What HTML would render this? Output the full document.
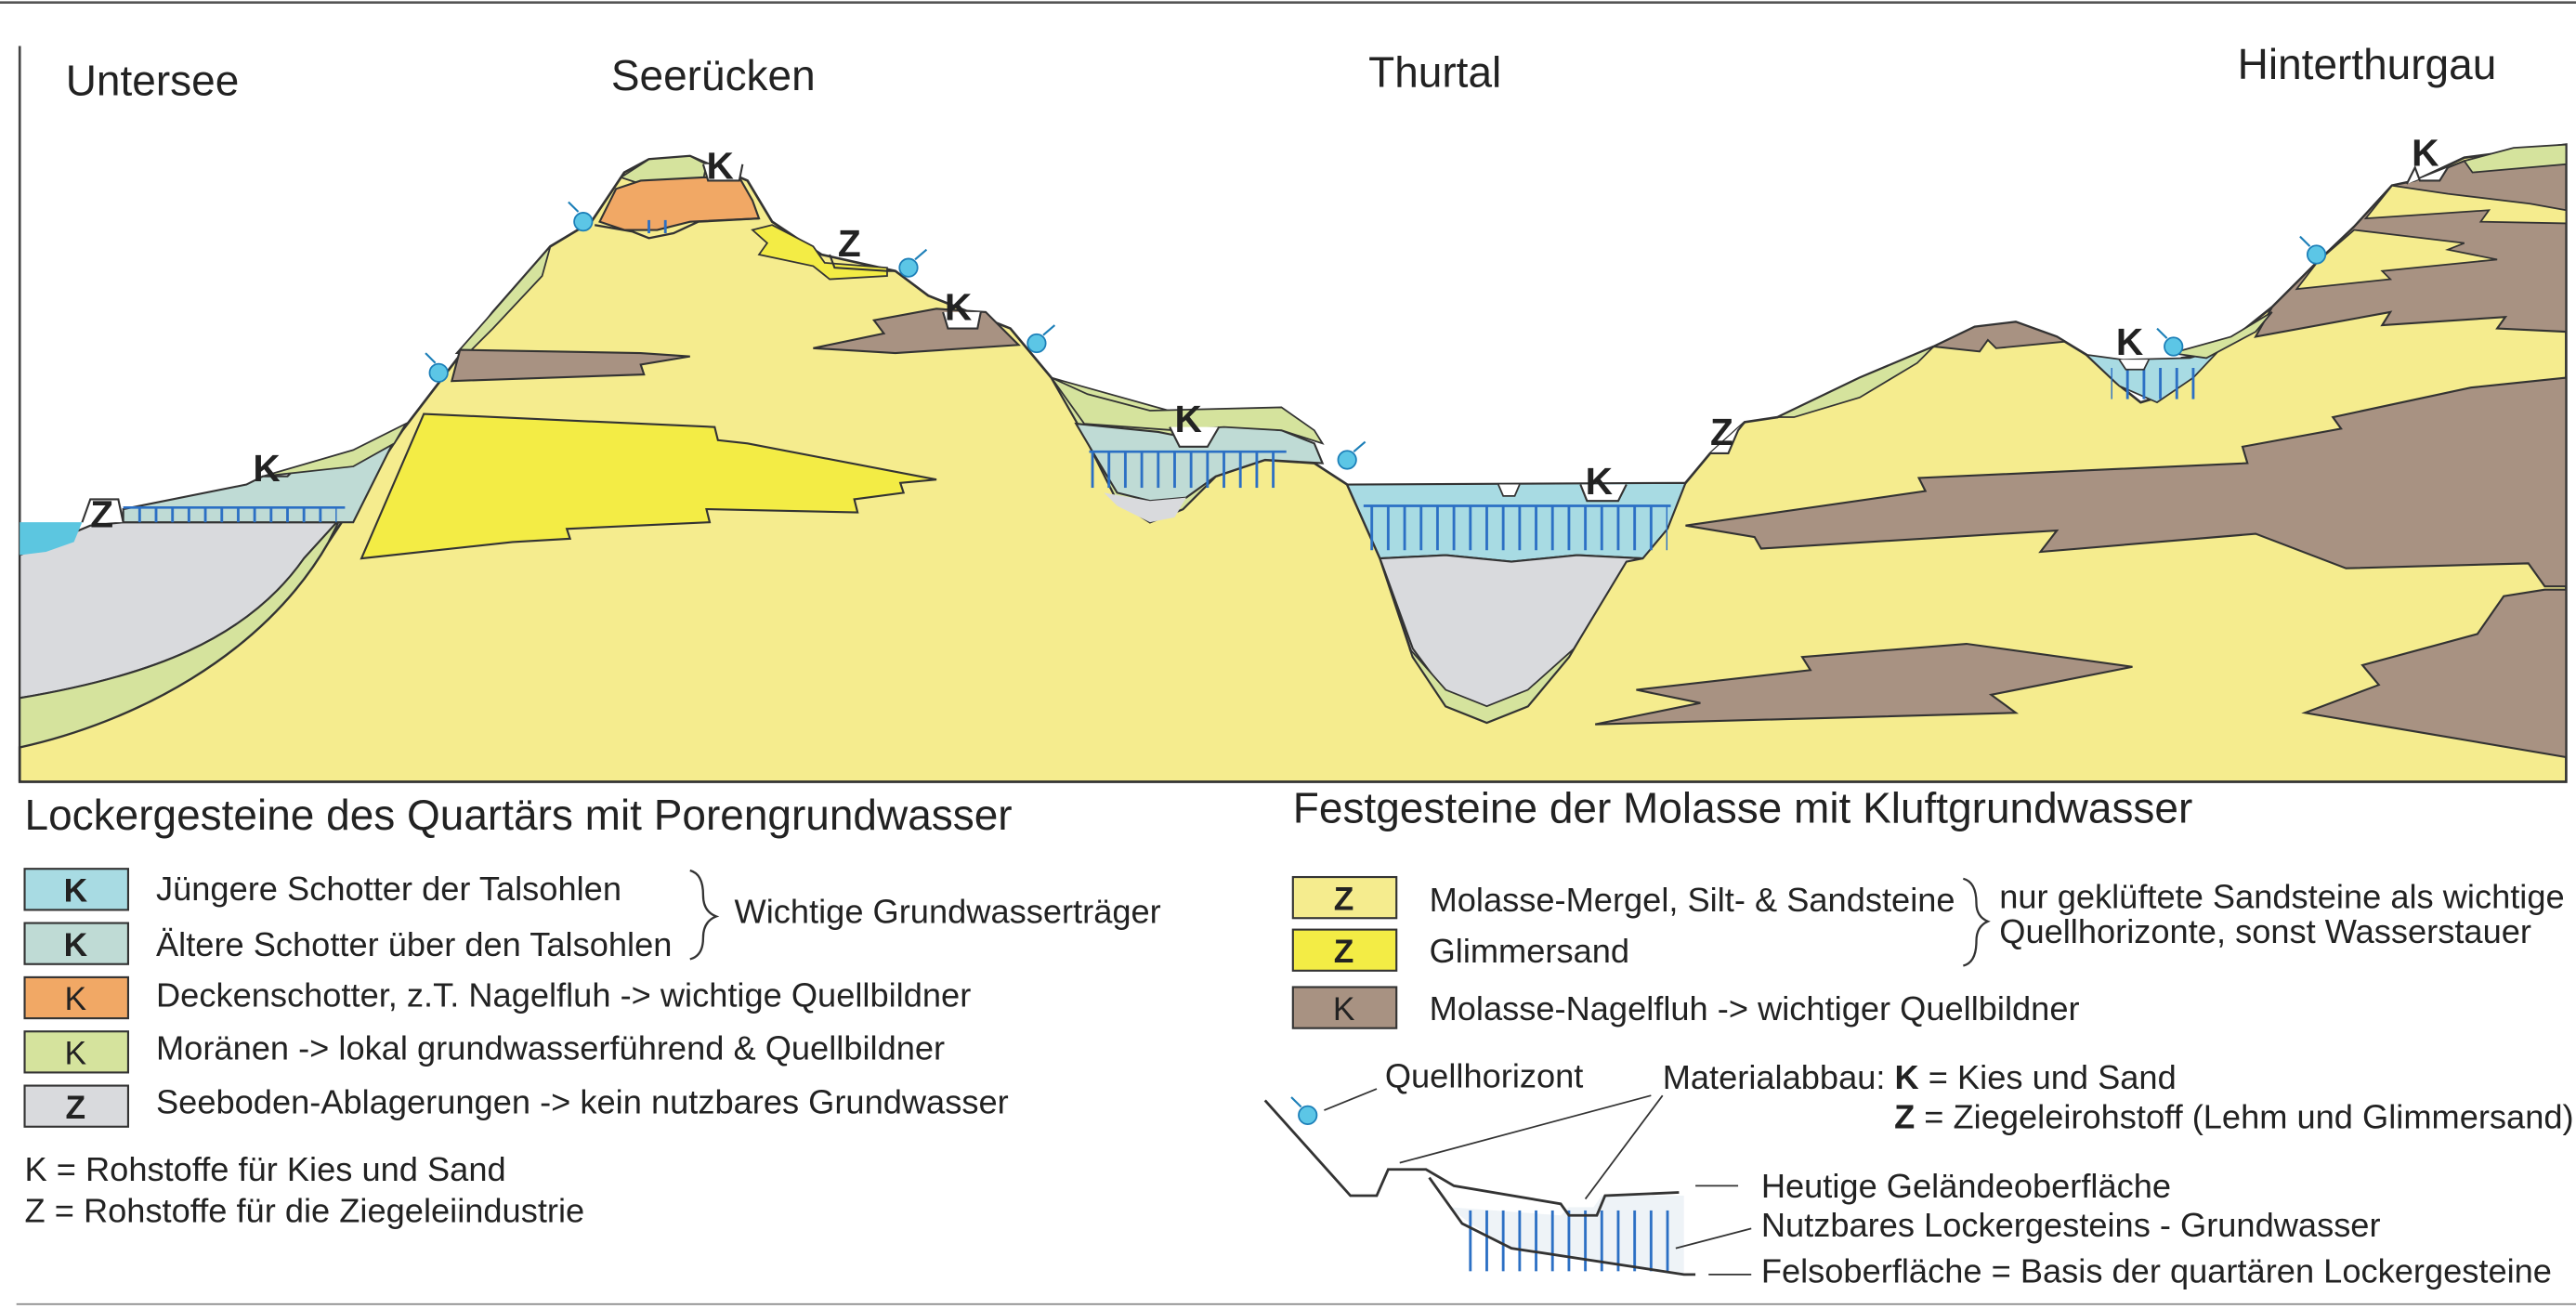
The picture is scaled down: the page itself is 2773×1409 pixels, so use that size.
<!DOCTYPE html>
<html><head><meta charset="utf-8"><style>
html,body{margin:0;padding:0;background:#fff;}
svg{display:block;}
text{font-family:"Liberation Sans",Arial,sans-serif;fill:#222;}
.t{font-size:26px;}
.l{font-size:20.5px;}
.b{font-weight:bold;}
</style></head><body>
<svg width="2773" height="1409" viewBox="0 0 1568 797" preserveAspectRatio="none" xmlns="http://www.w3.org/2000/svg">
<defs>
<pattern id="h" width="10" height="40" patternUnits="userSpaceOnUse">
<line x1="5" y1="0" x2="5" y2="40" stroke="#2b6fc4" stroke-width="1.6"/>
</pattern>
</defs>
<rect width="1568" height="797" fill="#fff"/>
<line x1="0" y1="1.5" x2="1568" y2="1.5" stroke="#555" stroke-width="1.5"/>
<line x1="12" y1="28" x2="12" y2="476" stroke="#444" stroke-width="1.5"/>
<line x1="10" y1="794" x2="1568" y2="794" stroke="#888" stroke-width="1"/>

<path d="M12,455 C80,440 160,400 200,330 L245,262 L300,190 L335,150 L360,135 L380,105 L395,97 L420,95 L455,110 L470,135 L500,155 L545,165 L565,180 L615,200 L640,230 L660,265 L680,305 L700,318 L720,310 L740,290 L770,280 L800,282 L820,295 L840,340 L860,400 L880,430 L905,440 L930,430 L955,400 L990,340 L1026,294 L1041,276 L1062,257 L1082,254 L1132,230 L1177,211 L1202,199 L1227,196 L1252,205 L1270,216 L1288,233 L1303,245 L1313,242 L1328,218 L1348,215 L1383,187 L1411,159 L1433,138 L1456,113 L1470,110 L1500,96 L1562,88 L1562,476 L12,476 Z" fill="#f5ec8e" stroke="#333" stroke-width="1.5"/>

<path d="M12,425 C90,412 150,390 185,340 L205,318 L75,318 L55,320 L12,338 Z" fill="#d9dadd" stroke="#333" stroke-width="1.2"/>
<path d="M12,425 C90,412 150,390 185,340 L205,318 L215,300 L200,330 C160,400 80,440 12,455 Z" fill="#d5e39d" stroke="#333" stroke-width="1.2"/>
<path d="M12,318 L50,318 L45,330 L28,336 L12,338 Z" fill="#5cc6e0"/>
<path d="M75,310 L150,295 L160,290 L175,290 L180,285 L215,280 L240,268 L215,318 L75,318 Z" fill="#bfdbd5" stroke="#333" stroke-width="1.2"/>
<path d="M160,290 L215,274 L247,258 L240,270 L215,284 Z" fill="#d5e39d" stroke="#333" stroke-width="1"/>
<rect x="78" y="309" width="127" height="9" fill="url(#h)"/>
<line x1="75" y1="309" x2="210" y2="309" stroke="#2b6fc4" stroke-width="1.5"/>
<path d="M50,318 L55,304 L72,304 L75,318" fill="#fff" stroke="#333" stroke-width="1.2"/>

<path d="M278,215 L300,190 L335,150 L330,168 L300,200 L285,215 Z" fill="#d5e39d" stroke="#333" stroke-width="1"/>
<path d="M280,213 L390,215 L420,217 L390,222 L392,228 L275,232 Z" fill="#a89282" stroke="#333" stroke-width="1.2"/>
<path d="M258,252 L435,260 L437,268 L455,270 L570,292 L548,294 L550,300 L520,304 L522,312 L430,310 L432,318 L345,322 L347,328 L312,330 L220,340 Z" fill="#f3ec45" stroke="#333" stroke-width="1.2"/>
<path d="M378,108 L395,97 L420,95 L430,100 L428,110 L390,112 Z" fill="#d5e39d" stroke="#333" stroke-width="1"/>
<path d="M365,135 L375,115 L390,110 L428,108 L450,108 L458,122 L462,133 L420,135 L400,140 L380,140 Z" fill="#f1a865" stroke="#333" stroke-width="1.2"/>
<path d="M362,137 L385,141 L395,145 L410,142 L425,135 L462,133" fill="none" stroke="#333" stroke-width="1.3"/>
<rect x="386" y="134" width="20" height="8" fill="url(#h)"/>
<path d="M458,140 L470,137 L495,150 L502,160 L540,163 L540,168 L505,170 L495,162 L462,155 L467,148 Z" fill="#f3ec45" stroke="#333" stroke-width="1"/>
<path d="M495,212 L538,203 L532,195 L570,188 L600,190 L620,210 L545,215 Z" fill="#a89282" stroke="#333" stroke-width="1.2"/>
<path d="M428,100 L431,110 L450,110 L452,100" fill="#fff" stroke="#333" stroke-width="1.2"/>
<path d="M505,155 L508,163 L540,165 L545,165" fill="none" stroke="#333" stroke-width="1.2"/>
<path d="M574,190 L577,200 L595,200 L597,190" fill="#fff" stroke="#333" stroke-width="1.2"/>

<path d="M640,230 L660,265 L680,305 L700,318 L720,310 L740,290 L770,280 L800,282 L790,268 L770,260 L740,258 Z" fill="#d5e39d" stroke="#333" stroke-width="1"/>
<path d="M655,258 L705,263 L715,265 L735,265 L745,258 L780,262 L800,270 L805,282 L770,280 L740,290 L722,303 L700,305 L680,300 L668,280 Z" fill="#bfdbd5" stroke="#333" stroke-width="1.2"/>
<path d="M672,300 L700,305 L722,303 L715,315 L700,318 L680,308 Z" fill="#d9dadd"/>
<path d="M640,230 L662,240 L700,250 L780,248 L800,262 L805,270 L780,262 L745,260 L715,262 L660,258 Z" fill="#d5e39d" stroke="#333" stroke-width="1"/>
<rect x="663" y="275" width="120" height="22" fill="url(#h)"/>
<line x1="663" y1="275" x2="783" y2="275" stroke="#2b6fc4" stroke-width="1.5"/>
<path d="M712,260 L718,272 L735,272 L742,260" fill="#fff" stroke="#333" stroke-width="1.2"/>

<path d="M820,295 L1026,294 L1015,322 L1000,340 L960,338 L920,342 L880,338 L840,340 Z" fill="#a8dbe3" stroke="#333" stroke-width="1.2"/>
<path d="M840,340 L880,338 L920,342 L960,338 L1000,340 L990,342 L955,400 L930,428 L905,432 L880,422 L860,395 Z" fill="#d9dadd" stroke="#333" stroke-width="1.2"/>
<path d="M858,395 L880,420 L905,430 L930,420 L958,395 L955,400 L930,430 L905,440 L880,430 L860,400 Z" fill="#d5e39d" stroke="#333" stroke-width="1"/>
<rect x="830" y="308" width="185" height="27" fill="url(#h)"/>
<line x1="830" y1="308" x2="1017" y2="308" stroke="#2b6fc4" stroke-width="1.5"/>
<path d="M912,295 L915,302 L922,302 L925,295" fill="#fff" stroke="#333" stroke-width="1"/>
<path d="M962,295 L966,305 L985,305 L990,295" fill="#fff" stroke="#333" stroke-width="1.2"/>
<path d="M1041,276 L1052,276 L1058,262 L1062,257" fill="#fff" stroke="#333" stroke-width="1.2"/>

<path d="M1026,320 L1172,299 L1168,291 L1368,282 L1365,272 L1425,261 L1420,254 L1504,236 L1562,230 L1562,357 L1549,357 L1539,343 L1428,346 L1373,325 L1242,336 L1252,323 L1072,334 L1068,327 Z" fill="#a89282" stroke="#333" stroke-width="1.2"/>
<path d="M1549,359 L1524,363 L1508,386 L1438,405 L1448,417 L1403,434 L1562,461 L1562,359 Z" fill="#a89282" stroke="#333" stroke-width="1.2"/>
<path d="M971,441 L1227,434 L1212,423 L1298,406 L1197,392 L1097,400 L1102,408 L996,420 L1035,428 Z" fill="#a89282" stroke="#333" stroke-width="1.2"/>
<path d="M1373,205 L1383,187 L1411,159 L1433,138 L1456,113 L1470,110 L1500,98 L1562,92 L1562,202 L1520,200 L1525,193 L1450,198 L1455,190 Z" fill="#a89282" stroke="#333" stroke-width="1.2"/>
<path d="M1456,113 L1490,118 L1540,124 L1562,128 L1562,136 L1510,135 L1515,128 L1440,133 Z" fill="#f5ec8e" stroke="#333" stroke-width="1"/>
<path d="M1411,159 L1433,140 L1500,148 L1490,152 L1520,158 L1450,165 L1455,170 L1398,176 Z" fill="#f5ec8e" stroke="#333" stroke-width="1"/>
<path d="M1500,98 L1530,90 L1562,88 L1562,100 L1505,105 Z" fill="#d5e39d" stroke="#333" stroke-width="1"/>
<path d="M1465,112 L1470,102 L1473,110 L1485,110 L1490,102" fill="#fff" stroke="#333" stroke-width="1.2"/>
<path d="M1177,211 L1202,199 L1227,196 L1252,205 L1257,208 L1215,212 L1210,207 L1205,214 Z" fill="#a89282" stroke="#333" stroke-width="1.1"/>
<path d="M1082,254 L1132,230 L1177,211 L1167,221 L1132,242 L1092,254 Z" fill="#d5e39d" stroke="#333" stroke-width="1"/>
<path d="M1270,216 L1292,219 L1333,218 L1352,212 L1335,230 L1313,245 L1290,235 Z" fill="#a8dbe3" stroke="#333" stroke-width="1"/>
<rect x="1285" y="224" width="55" height="19" fill="url(#h)"/>
<path d="M1322,215 L1358,205 L1383,190 L1373,202 L1343,218 Z" fill="#d5e39d" stroke="#333" stroke-width="1"/>
<path d="M1290,219 L1294,225 L1305,225 L1308,219" fill="#fff" stroke="#333" stroke-width="1"/>

<g fill="#5cc6e6" stroke="#1c7fb8" stroke-width="1">
<circle cx="267" cy="227" r="5.5"/><circle cx="355" cy="135" r="5.5"/><circle cx="553" cy="163" r="5.5"/>
<circle cx="631" cy="209" r="5.5"/><circle cx="820" cy="280" r="5.5"/><circle cx="1323" cy="211" r="5.5"/><circle cx="1410" cy="155" r="5.5"/>
</g>
<g stroke="#1c7fb8" stroke-width="1.2">
<line x1="265" y1="221" x2="259" y2="215"/><line x1="352" y1="129" x2="346" y2="123"/><line x1="557" y1="158" x2="564" y2="152"/>
<line x1="635" y1="204" x2="642" y2="198"/><line x1="824" y1="275" x2="831" y2="269"/><line x1="1319" y1="206" x2="1313" y2="200"/><line x1="1406" y1="150" x2="1400" y2="144"/>
</g>

<g class="b" style="font-size:23px">
<text x="55" y="321">Z</text><text x="154" y="293">K</text><text x="430" y="109">K</text>
<text x="510" y="156">Z</text><text x="575" y="195">K</text><text x="715" y="263">K</text>
<text x="965" y="301">K</text><text x="1041" y="271">Z</text><text x="1288" y="216">K</text><text x="1468" y="101">K</text>
</g>

<text class="t" x="40" y="58">Untersee</text>
<text class="t" x="372" y="55">Seerücken</text>
<text class="t" x="833" y="53">Thurtal</text>
<text class="t" x="1362" y="48">Hinterthurgau</text>

<text class="t" x="15" y="505">Lockergesteine des Quartärs  mit Porengrundwasser</text>
<g stroke="#333" stroke-width="1.2">
<rect x="15" y="529" width="63" height="25" fill="#a8dbe3"/>
<rect x="15" y="562" width="63" height="25" fill="#bfdbd5"/>
<rect x="15" y="595" width="63" height="25" fill="#f1a865"/>
<rect x="15" y="628" width="63" height="25" fill="#d5e39d"/>
<rect x="15" y="661" width="63" height="25" fill="#d9dadd"/>
</g>
<g style="font-size:20px" text-anchor="middle">
<text class="b" x="46" y="549">K</text><text class="b" x="46" y="582">K</text>
<text x="46" y="615">K</text><text x="46" y="648">K</text><text class="b" x="46" y="681">Z</text>
</g>
<text class="l" x="95" y="548">Jüngere Schotter der Talsohlen</text>
<text class="l" x="95" y="582">Ältere Schotter über den  Talsohlen</text>
<text class="l" x="95" y="613">Deckenschotter, z.T. Nagelfluh -&gt; wichtige Quellbildner</text>
<text class="l" x="95" y="645">Moränen -&gt; lokal grundwasserführend &amp; Quellbildner</text>
<text class="l" x="95" y="678">Seeboden-Ablagerungen -&gt; kein nutzbares Grundwasser</text>
<path d="M420,530 Q428,532 428,545 Q428,555 436,558 Q428,561 428,571 Q428,582 420,584" fill="none" stroke="#333" stroke-width="1.3"/>
<text class="l" x="447" y="562">Wichtige Grundwasserträger</text>
<text class="l" x="15" y="719">K = Rohstoffe für Kies und Sand</text>
<text class="l" x="15" y="744">Z = Rohstoffe  für die Ziegeleiindustrie</text>

<text class="t" x="787" y="501">Festgesteine der Molasse mit Kluftgrundwasser</text>
<g stroke="#333" stroke-width="1.2">
<rect x="787" y="534" width="63" height="25" fill="#f5ec8e"/>
<rect x="787" y="566" width="63" height="25" fill="#f3ec45"/>
<rect x="787" y="601" width="63" height="25" fill="#a89282"/>
</g>
<g style="font-size:20px" text-anchor="middle">
<text class="b" x="818" y="554">Z</text><text class="b" x="818" y="586">Z</text><text x="818" y="621">K</text>
</g>
<text class="l" x="870" y="555">Molasse-Mergel, Silt- &amp; Sandsteine</text>
<text class="l" x="870" y="586">Glimmersand</text>
<text class="l" x="870" y="621">Molasse-Nagelfluh -&gt; wichtiger Quellbildner</text>
<path d="M1195,535 Q1203,537 1203,550 Q1203,558 1210,561 Q1203,564 1203,573 Q1203,586 1195,588" fill="none" stroke="#333" stroke-width="1.3"/>
<text class="l" x="1217" y="553">nur geklüftete Sandsteine als wichtige</text>
<text class="l" x="1217" y="574">Quellhorizonte, sonst Wasserstauer</text>

<path d="M882,735 L950,740 L955,735 L970,735 L975,728 L1025,728 L1025,775 L920,760 L895,745 Z" fill="#eef3f7"/>
<rect x="893" y="737" width="130" height="37" fill="url(#h)"/>
<path d="M770,670 L822,728 L838,728 L845,712 L868,712 L885,722 L950,733 L955,740 L972,740 L977,728 L1022,726" fill="none" stroke="#333" stroke-width="1.6"/>
<path d="M870,717 L890,745 L920,760 L1025,776 L1032,776" fill="none" stroke="#333" stroke-width="1.6"/>
<circle cx="796" cy="679" r="5.5" fill="#5cc6e6" stroke="#1c7fb8"/>
<line x1="792" y1="674" x2="786" y2="668" stroke="#1c7fb8" stroke-width="1.2"/>
<line x1="838" y1="663" x2="806" y2="676" stroke="#333" stroke-width="1"/>
<text class="l" x="843" y="662">Quellhorizont</text>
<line x1="1005" y1="667" x2="852" y2="708" stroke="#333" stroke-width="1"/>
<line x1="1012" y1="667" x2="965" y2="730" stroke="#333" stroke-width="1"/>
<text class="l" x="1012" y="663">Materialabbau: <tspan class="b">K</tspan> = Kies und Sand</text>
<text class="l" x="1153" y="687"><tspan class="b">Z</tspan> = Ziegeleirohstoff (Lehm und Glimmersand)</text>
<line x1="1032" y1="722" x2="1058" y2="722" stroke="#333" stroke-width="1"/>
<text class="l" x="1072" y="729">Heutige Geländeoberfläche</text>
<line x1="1020" y1="760" x2="1066" y2="748" stroke="#333" stroke-width="1"/>
<text class="l" x="1072" y="753">Nutzbares Lockergesteins - Grundwasser</text>
<line x1="1040" y1="776" x2="1066" y2="776" stroke="#333" stroke-width="1"/>
<text class="l" x="1072" y="781">Felsoberfläche = Basis der quartären Lockergesteine</text>
</svg>
</body></html>
